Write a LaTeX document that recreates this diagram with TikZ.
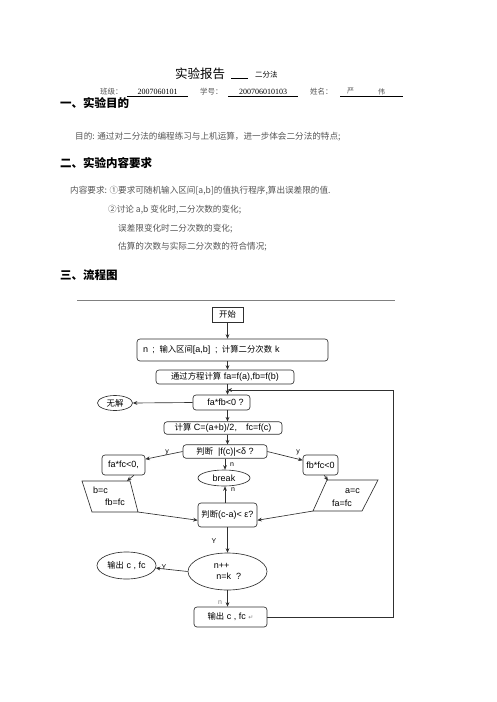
\documentclass[tikz,border=0pt]{standalone}
\usepackage{fontspec}
\setmainfont{Liberation Serif}
\newfontfamily\cjk{Noto Sans CJK SC}
\newfontfamily\cjkf[Scale=0.93]{Noto Sans CJK SC}
\newfontfamily\flowsans{Liberation Sans}
\newfontfamily\symfont{DejaVu Sans}
\newcommand\zh[1]{{\cjkf #1}}
\usetikzlibrary{shapes.geometric,arrows.meta}
\definecolor{linec}{HTML}{303030}
\definecolor{graytxt}{HTML}{555555}
\begin{document}
\begin{tikzpicture}[x=1pt,y=-1pt,
  flowfont/.style={font=\flowsans\fontsize{9}{10.5}\selectfont},
  box/.style={draw=linec, line width=0.65pt, rounded corners=3pt, inner sep=0pt, flowfont},
  sqbox/.style={draw=linec, line width=0.65pt, inner sep=0pt, flowfont},
  ell/.style={draw=linec, line width=0.65pt, ellipse, inner sep=0pt, flowfont},
  arr/.style={draw=linec, line width=0.65pt, -{Stealth[length=4.5pt,width=3.8pt]}},
  plain/.style={draw=linec, line width=0.65pt},
  lbl/.style={font=\flowsans\fontsize{7}{8}\selectfont, inner sep=0pt},
  txt/.style={inner sep=0pt, anchor=west},
  bodytxt/.style={txt, font=\cjk\fontsize{8.6}{10}\selectfont, text=graytxt},
  head/.style={txt, font=\cjk\bfseries\fontsize{11.5}{13}\selectfont},
  small/.style={txt, font=\cjk\fontsize{7.5}{9}\selectfont, text=graytxt},
  num/.style={inner sep=0pt, font=\fontsize{8}{9}\selectfont}
]
\useasboundingbox[fill=white] (0,0) rectangle (496,702);

% ---------- header ----------
\node[txt, font=\cjk\fontsize{12.5}{14}\selectfont] (title) at (175,74) {实验报告};
\draw[line width=0.5pt] (231,78.5) -- (248,78.5);
\node[txt, font=\cjk\fontsize{7.5}{9}\selectfont] (titleb) at (255,75) {二分法};

\node[small] (cls) at (100,92) {班级：};
\node[num] (clsv) at (157.5,92) {2007060101};
\draw[line width=0.5pt] (127,96.5) -- (188,96.5);
\node[small] (sid) at (200,92) {学号：};
\node[num] (sidv) at (263,92) {200706010103};
\draw[line width=0.5pt] (228,96.5) -- (298,96.5);
\node[small] (nm) at (310,92) {姓名：};
\node[small, font=\cjk\fontsize{7}{8}\selectfont] (nm1) at (347,91.5) {严};
\node[small, font=\cjk\fontsize{7}{8}\selectfont] (nm2) at (378,92) {伟};
\draw[line width=0.5pt] (340,96.5) -- (403,96.5);

\node[head] (h1) at (60,103) {一、实验目的};
\node[bodytxt] (b1) at (75,137) {目的: 通过对二分法的编程练习与上机运算，进一步体会二分法的特点;};
\node[head] (h2) at (60,163) {二、实验内容要求};
\node[bodytxt] (b2) at (70,191) {内容要求: ①要求可随机输入区间[a,b]的值执行程序,算出误差限的值.};
\node[bodytxt] (b3) at (108,209.5) {②讨论 a,b 变化时,二分次数的变化;};
\node[bodytxt] (b4) at (118,228.5) {误差限变化时二分次数的变化;};
\node[bodytxt] (b5) at (118,247) {估算的次数与实际二分次数的符合情况;};
\node[head] (h3) at (60,275) {三、流程图};

\draw[line width=0.5pt, draw=gray] (77,300) -- (395,300);

% ---------- flowchart nodes ----------
\node[sqbox, minimum width=31pt, minimum height=15pt] (start) at (227.5,314.5) {\zh{开始}};
\node[box, minimum width=191pt, minimum height=22pt, text width=179pt, inner xsep=6pt, align=left] (inp) at (232.5,350)
  {n \,;\, \zh{输入区间}[a,b] \,;\, \zh{计算二分次数} k};
\node[box, minimum width=138pt, minimum height=14pt] (calc1) at (225,377) {\zh{通过方程计算} fa=f(a),fb=f(b)};
\node[box, minimum width=57pt, minimum height=15pt] (cond1) at (221.5,402.5) {\hspace*{8pt}fa*fb<0 ?};
\node[ell, minimum width=35pt, minimum height=15pt] (nosol) at (115,403) {\zh{无解}};
\node[box, minimum width=118pt, minimum height=12.5pt] (calc2) at (223,428) {\zh{计算} C=(a+b)/2,\quad fc=f(c)};
\node[box, minimum width=84pt, minimum height=13.5pt] (judge1) at (225,451.5) {\zh{判断}\ \ |f(c)|<δ ?};
\node[box, minimum width=43pt, minimum height=20pt] (fafc) at (123.5,465) {fa*fc<0,};
\node[box, minimum width=35pt, minimum height=20pt] (fbfc) at (320.5,465) {fb*fc<0};
\node[ell, minimum width=52pt, minimum height=16pt] (brk) at (224,478) {break};
\node[box, minimum width=59pt, minimum height=24pt] (judge2) at (227.5,515) {\zh{判断}(c-a)< ε?};
\node[ell, minimum width=79pt, minimum height=37pt, align=left] (loopE) at (227.5,571.5) {n++\\[1pt]\ n=k\ \ ?};
\node[ell, minimum width=59pt, minimum height=27pt] (outL) at (126.5,565.5) {\zh{输出}\ c , fc};
\node[box, minimum width=73pt, minimum height=20pt] (outBox) at (230.5,617) {\zh{输出}\ c , fc {\symfont\fontsize{6}{7}\selectfont\color{gray}↵}};

% parallelograms
\draw[plain] (82,481) -- (130,481) -- (138,512) -- (92,512) -- cycle;
\node[txt, flowfont] (pLa) at (93,490) {b=c};
\node[txt, flowfont] (pLb) at (105,502) {fb=fc};
\coordinate (pLtop) at (127,481);
\coordinate (pLbr) at (138,512);
\draw[plain] (327,480) -- (378,480) -- (362,511) -- (313,511) -- cycle;
\node[txt, flowfont] (pRa) at (345,491) {a=c};
\node[txt, flowfont] (pRb) at (332,503) {fa=fc};
\coordinate (pRtop) at (328,480.5);
\coordinate (pRbl) at (313,511);

% loop coordinates
\coordinate (join) at (227.5,390);
\coordinate (lc1) at (393,617);

% ---------- connectors ----------
\draw[arr] (start.south) -- (start.south |- inp.north);
\draw[arr] (inp.south -| start.south) -- (start.south |- calc1.north);
\draw[arr] (calc1.south -| start.south) -- (start.south |- cond1.north);
\draw[arr] (cond1.west) -- (nosol.east);
\draw[arr] (cond1.south -| start.south) -- (start.south |- calc2.north);
\draw[arr] (calc2.south -| start.south) -- (start.south |- judge1.north);
\draw[arr] (judge1.west) -- (fafc.15);
\draw[arr] (judge1.east) -- (fbfc.165);
\draw[arr] (judge1.south) -- (judge1.south |- brk.north);
\draw[arr] (fafc.-45) -- (pLtop);
\draw[arr] (fbfc.-70) -- (pRtop);
\draw[arr] (pLbr) -- (judge2.190);
\draw[arr] (pRbl) -- (judge2.-10);
\draw[arr] (judge1.south |- judge2.north) -- (judge1.south |- brk.south);
\draw[arr] (judge2.south) -- (loopE.north);
\draw[arr] (loopE.west) -- (outL.-5);
\draw[arr] (loopE.south) -- (loopE.south |- outBox.north);
\draw[arr] (outBox.east) -- (lc1) |- (join);

% labels
\node[lbl] (ly1) at (167,452) {y};
\node[lbl] (ly2) at (298,452) {y};
\node[lbl] (ln1) at (232,465) {n};
\node[lbl] (ln2) at (233,490) {n};
\node[lbl] (lY1) at (214,541) {Y};
\node[lbl] (lY2) at (164,567.5) {Y};
\node[lbl, text=gray] (ln3) at (220,603) {n};
\end{tikzpicture}
\end{document}
